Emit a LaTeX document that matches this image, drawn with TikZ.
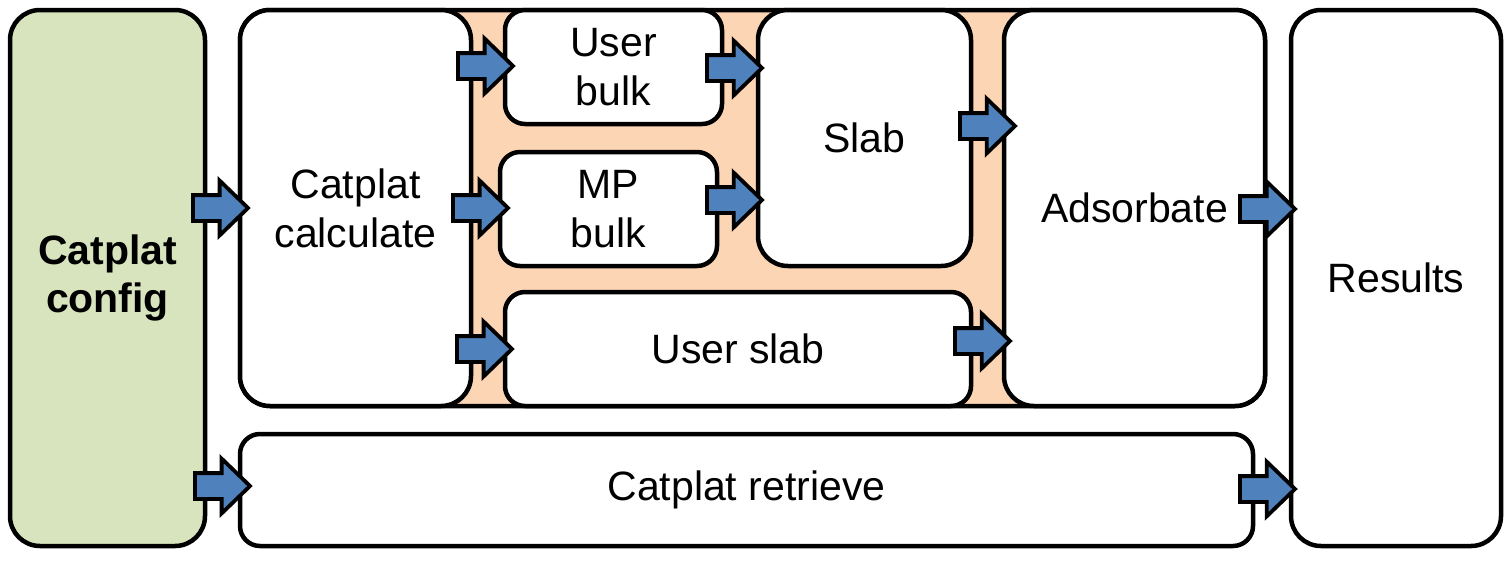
\documentclass[tikz,border=0pt]{standalone}
\usepackage{fontspec}
\setmainfont{Liberation Sans}
\usepackage{tikz}
\usetikzlibrary{shapes.arrows}
\definecolor{cfggreen}{HTML}{D7E4BD}
\definecolor{flowpeach}{HTML}{FCD5B5}
\definecolor{arrowblue}{HTML}{4F81BD}
\tikzset{
    box/.style={draw=black, fill=white, line width=4.5pt, rounded corners=30pt,
        align=center, inner sep=0pt, font=\fontsize{41}{49}\selectfont},
    smallbox/.style={box, rounded corners=20pt},
    barrow/.style={single arrow, draw=black, fill=arrowblue, line width=3.8pt,
        minimum height=55pt, inner xsep=0pt, inner ysep=11pt, single arrow head extend=14.5pt,
        single arrow tip angle=88, anchor=tip}}

\begin{document}
\begin{tikzpicture}[x=1pt, y=-1pt]
        \useasboundingbox (0,0) rectangle (1511,565);

            % boxes
            \node[box, fill=cfggreen, minimum width=195pt, minimum height=536pt, font=\fontsize{41}{48}\selectfont\bfseries] (config) at (107.5,278) {Catplat\\config};
            \node[box, fill=flowpeach, minimum width=1025pt, minimum height=396pt] (flow) at (752.5,208) {};
            \node[box, minimum width=231pt, minimum height=396pt] (calc) at (355.5,208) {Catplat\\calculate};
            \node[smallbox, minimum width=217pt, minimum height=114pt] (ubulk) at (613.5,67) {User\\bulk};
            \node[smallbox, minimum width=217pt, minimum height=114pt] (mpbulk) at (608.5,209) {MP\\bulk};
            \node[box, minimum width=213pt, minimum height=256pt] (slab) at (864.5,138) {Slab};
            \node[smallbox, minimum width=466pt, minimum height=114pt] (uslab) at (738,349) {User slab};
            \node[box, minimum width=261pt, minimum height=396pt] (ads) at (1134.5,208) {Adsorbate};
            \node[smallbox, minimum width=1013pt, minimum height=112pt] (retrieve) at (746.5,490) {Catplat retrieve};
            \node[box, minimum width=210pt, minimum height=536pt] (results) at (1396,278) {Results};

            % arrows
            \node[barrow] (a1) at ([xshift=13pt]calc.west |- 0,208) {};
            \node[barrow] (a2) at ([xshift=15pt]retrieve.west |- 0,486) {};
            \node[barrow] (a3) at ([xshift=13pt]ubulk.west |- 0,66) {};
            \node[barrow] (a4) at ([xshift=13pt]mpbulk.west |- 0,208) {};
            \node[barrow] (a5) at ([xshift=12pt]uslab.west |- 0,349) {};
            \node[barrow] (a6) at ([xshift=9pt]slab.west |- 0,68) {};
            \node[barrow] (a7) at ([xshift=9pt]slab.west |- 0,200) {};
            \node[barrow] (a8) at ([xshift=16pt]ads.west |- 0,126) {};
            \node[barrow] (a9) at ([xshift=11pt]ads.west |- 0,341) {};
            \node[barrow] (a10) at ([xshift=9pt]results.west |- 0,209) {};
            \node[barrow] (a11) at ([xshift=9pt]results.west |- 0,489) {};

        \end{tikzpicture}
\end{document}
